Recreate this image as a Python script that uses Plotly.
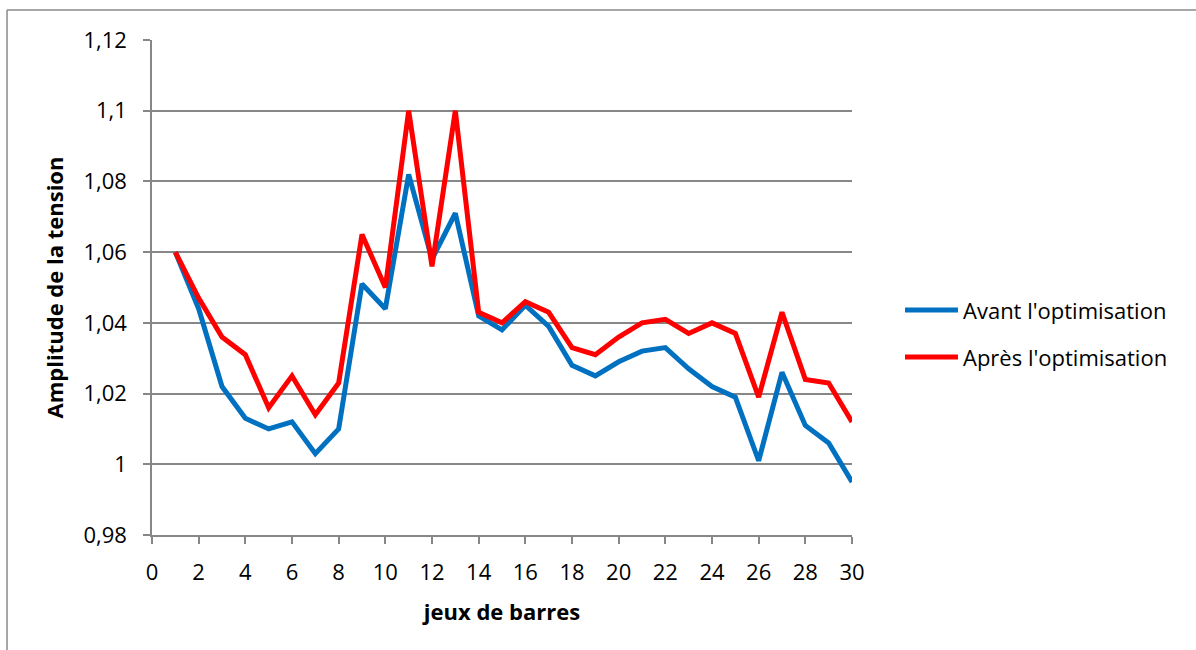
import plotly.graph_objects as go

# Bus index (jeux de barres)
bus = list(range(1, 31))

# Voltage magnitude (p.u.) before and after optimisation
avant = [1.060, 1.044, 1.022, 1.013, 1.010, 1.012, 1.003, 1.010, 1.051, 1.044,
         1.082, 1.058, 1.071, 1.042, 1.038, 1.045, 1.039, 1.028, 1.025, 1.029,
         1.032, 1.033, 1.027, 1.022, 1.019, 1.001, 1.026, 1.011, 1.006, 0.995]
apres = [1.060, 1.047, 1.036, 1.031, 1.016, 1.025, 1.014, 1.023, 1.065, 1.050,
         1.100, 1.056, 1.100, 1.043, 1.040, 1.046, 1.043, 1.033, 1.031, 1.036,
         1.040, 1.041, 1.037, 1.040, 1.037, 1.019, 1.043, 1.024, 1.023, 1.012]

series_names = ["Avant l'optimisation", "Après l'optimisation"]
series_colors = ["#0070C0", "#FF0000"]

y_ticks = [0.98, 1.00, 1.02, 1.04, 1.06, 1.08, 1.10, 1.12]
y_tick_labels = ["0,98", "1", "1,02", "1,04", "1,06", "1,08", "1,1", "1,12"]
x_ticks = list(range(0, 31, 2))

GRID = "#878787"
FONT = "Open Sans, Noto Sans, sans-serif"
FS = 22

fig = go.Figure()
for name, vals, col in zip(series_names, [avant, apres], series_colors):
    fig.add_trace(go.Scatter(x=bus, y=vals, mode="lines", name=name,
                             showlegend=False,
                             line=dict(color=col, width=5)))

# Legend drawn to the right of the plot area: a long line sample plus the label
legend_rows_y = [0.4545, 0.3596]
for name, col, ly in zip(series_names, series_colors, legend_rows_y):
    fig.add_shape(type="line", xref="paper", yref="paper",
                  x0=1.0757, x1=1.1514, y0=ly, y1=ly,
                  line=dict(color=col, width=5))
    fig.add_annotation(text=name, xref="paper", yref="paper",
                       x=1.156, y=ly, xanchor="left", yanchor="middle",
                       showarrow=False, font=dict(size=FS, color="black"))

# Chart frame (left and top edges)
fig.add_shape(type="line", xref="paper", yref="paper",
              x0=-0.2071, x1=-0.2071, y0=-0.24, y1=1.0606,
              line=dict(color="#8a8a8a", width=1.5))
fig.add_shape(type="line", xref="paper", yref="paper",
              x0=-0.2071, x1=1.50, y0=1.0606, y1=1.0606,
              line=dict(color="#8a8a8a", width=1.5))

fig.update_layout(
    width=1196, height=650,
    margin=dict(l=152, r=344, t=40, b=115),
    paper_bgcolor="white", plot_bgcolor="white",
    font=dict(family=FONT, size=FS, color="black"),
    showlegend=False,
    xaxis=dict(range=[0, 30], tickvals=x_ticks, showgrid=False, zeroline=False,
               showline=True, linecolor=GRID, linewidth=1.5,
               ticks="outside", ticklen=7, tickcolor=GRID, tickwidth=1.5,
               ticklabelstandoff=10, tickfont=dict(size=FS),
               title=dict(text="<b>jeux de barres</b>", font=dict(size=FS), standoff=19)),
    yaxis=dict(range=[0.98, 1.12], tickvals=y_ticks, ticktext=y_tick_labels,
               showgrid=True, gridcolor=GRID, gridwidth=1.5, zeroline=False,
               showline=True, linecolor=GRID, linewidth=1.5,
               ticks="outside", ticklen=7, tickcolor=GRID, tickwidth=1.5,
               ticklabelstandoff=12, tickfont=dict(size=FS),
               title=dict(text="<b>Amplitude de la tension</b>", font=dict(size=FS), standoff=14)),
)

fig.write_html("out.html")
